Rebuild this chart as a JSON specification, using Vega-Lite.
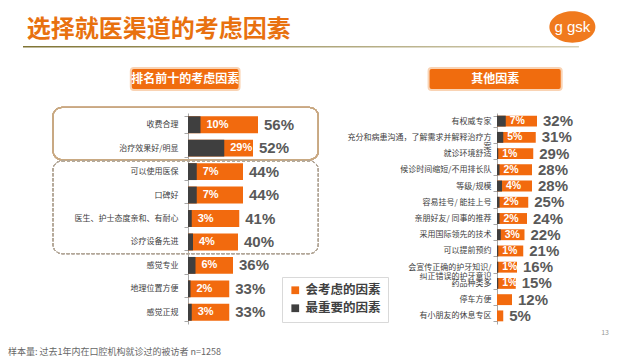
{
  "$schema": "https://vega.github.io/schema/vega-lite/v6.json",
  "background": "white",
  "padding": {"left": 8, "top": 11, "right": 5, "bottom": 5},
  "config": {
    "view": {"stroke": null},
    "font": "Noto Sans CJK SC"
  },
  "columns": 2,
  "spacing": {"row": 23, "column": 159},
  "bounds": "flush",
  "resolve": {"scale": {"color": "independent"}, "legend": {"color": "independent"}},
  "concat": [
    {
      "width": 150,
      "height": 22,
      "data": {"values": [{}]},
      "layer": [
        {
          "mark": {"type": "rect", "fill": "#F06C0E", "stroke": "#F9D3B4", "strokeWidth": 2, "cornerRadius": 3},
          "encoding": {
            "x": {"datum": -0.4575, "type": "quantitative", "scale": {"domain": [0, 1.125]}, "axis": null},
            "x2": {"datum": 0.4125},
            "y": {"datum": 0, "type": "quantitative", "scale": {"domain": [0, 1]}, "axis": null},
            "y2": {"datum": 1}
          }
        },
        {
          "mark": {"type": "text", "text": "排名前十的考虑因素", "color": "white", "fontSize": 12, "fontWeight": "bold", "align": "center", "baseline": "middle"},
          "encoding": {
            "x": {"datum": -0.0225, "type": "quantitative"},
            "y": {"datum": 0.5, "type": "quantitative"}
          }
        },
        {
          "mark": {"type": "text", "text": "选择就医渠道的考虑因素", "color": "#E8710F", "fontSize": 24, "fontWeight": "bold", "align": "left", "baseline": "middle"},
          "encoding": {
            "x": {"datum": -1.29, "type": "quantitative"},
            "y": {"datum": 2.705, "type": "quantitative"}
          }
        },
        {
          "mark": {"type": "rect", "color": {"gradient": "linear", "x1": 0, "x2": 1, "y1": 0, "y2": 0, "stops": [{"offset": 0, "color": "#7F7434"}, {"offset": 1, "color": "#D6D0B6"}]}},
          "encoding": {
            "x": {"datum": -1.32, "type": "quantitative"},
            "x2": {"datum": 3.1275},
            "y": {"datum": 2.0, "type": "quantitative"},
            "y2": {"datum": 1.93}
          }
        },
        {
          "mark": {"type": "point", "shape": "M -1 0 A 1 0.68 0 1 0 1 0 A 1 0.68 0 1 0 -1 0 Z", "filled": true, "color": "#F07A1E", "size": 2116, "opacity": 1},
          "encoding": {
            "x": {"datum": 3.075, "type": "quantitative"},
            "y": {"datum": 2.864, "type": "quantitative"}
          }
        },
        {
          "mark": {"type": "text", "text": "g gsk", "color": "white", "fontSize": 15, "font": "Liberation Sans", "align": "center", "baseline": "middle"},
          "encoding": {
            "x": {"datum": 3.075, "type": "quantitative"},
            "y": {"datum": 2.864, "type": "quantitative"}
          }
        }
      ]
    },
    {
      "width": 100,
      "height": 22,
      "data": {"values": [{}]},
      "layer": [
        {
          "mark": {"type": "rect", "fill": "#F06C0E", "stroke": "#F9D3B4", "strokeWidth": 2, "cornerRadius": 3},
          "encoding": {
            "x": {"datum": -0.5475, "type": "quantitative", "scale": {"domain": [0, 0.75]}, "axis": null},
            "x2": {"datum": 0.5175},
            "y": {"datum": 0, "type": "quantitative", "scale": {"domain": [0, 1]}, "axis": null},
            "y2": {"datum": 1}
          }
        },
        {
          "mark": {"type": "text", "text": "其他因素", "color": "white", "fontSize": 12, "fontWeight": "bold", "align": "center", "baseline": "middle"},
          "encoding": {
            "x": {"datum": -0.015, "type": "quantitative"},
            "y": {"datum": 0.5, "type": "quantitative"}
          }
        }
      ]
    },
    {
      "width": 150,
      "height": 211,
      "title": {"text": "样本量: 过去1年内在口腔机构就诊过的被访者 n=1258", "orient": "bottom", "anchor": "start", "frame": "group", "dx": -180, "offset": 24, "fontSize": 9, "fontWeight": "normal", "color": "#666666"},
      "data": {
        "values": [
          {"name": "收费合理", "consider": 0.56, "important": 0.10},
          {"name": "治疗效果好/明显", "consider": 0.52, "important": 0.29},
          {"name": "可以使用医保", "consider": 0.44, "important": 0.07},
          {"name": "口碑好", "consider": 0.44, "important": 0.07},
          {"name": "医生、护士态度亲和、有耐心", "consider": 0.41, "important": 0.03},
          {"name": "诊疗设备先进", "consider": 0.40, "important": 0.04},
          {"name": "感觉专业", "consider": 0.36, "important": 0.06},
          {"name": "地理位置方便", "consider": 0.33, "important": 0.02},
          {"name": "感觉正规", "consider": 0.33, "important": 0.03}
        ]
      },
      "layer": [
        {
          "mark": {"type": "bar"},
          "encoding": {
            "y": {"field": "name", "type": "nominal", "sort": null, "scale": {"paddingInner": 0.28, "paddingOuter": 0.14},
              "axis": {"title": null, "labelFontSize": 8, "labelColor": "#404040", "domainColor": "#A6A6A6", "tickColor": "#A6A6A6", "tickSize": 4, "tickBand": "extent", "labelPadding": 6, "labelLimit": 300}},
            "x": {"field": "consider", "type": "quantitative", "scale": {"domain": [0, 1.125]}, "axis": null},
            "color": {"datum": "会考虑的因素", "type": "nominal",
              "scale": {"domain": ["会考虑的因素", "最重要的因素"], "range": ["#F26A0E", "#3F3F3F"]},
              "legend": {"title": null, "orient": "none", "legendX": 94, "legendY": 164, "fillColor": "white", "strokeColor": "#D9D9D9", "padding": 7, "labelFontSize": 12.5, "labelFontWeight": "bold", "labelColor": "#404040", "symbolType": "square", "symbolSize": 60, "rowPadding": 5}}
          }
        },
        {
          "mark": {"type": "bar"},
          "encoding": {
            "y": {"field": "name", "type": "nominal", "sort": null},
            "x": {"field": "important", "type": "quantitative"},
            "color": {"datum": "最重要的因素", "type": "nominal"}
          }
        },
        {
          "mark": {"type": "text", "align": "left", "baseline": "middle", "dx": 6, "color": "white", "fontWeight": "bold", "fontSize": 11, "font": "Liberation Sans"},
          "encoding": {
            "y": {"field": "name", "type": "nominal", "sort": null},
            "x": {"field": "important", "type": "quantitative"},
            "text": {"field": "important", "type": "quantitative", "format": ".0%"}
          }
        },
        {
          "mark": {"type": "text", "align": "left", "baseline": "middle", "dx": 6, "color": "#595959", "fontWeight": "bold", "fontSize": 15, "font": "Liberation Sans"},
          "encoding": {
            "y": {"field": "name", "type": "nominal", "sort": null},
            "x": {"field": "consider", "type": "quantitative"},
            "text": {"field": "consider", "type": "quantitative", "format": ".0%"}
          }
        },
        {
          "mark": {"type": "rect", "fill": null, "stroke": "#C9A983", "strokeWidth": 1.2, "cornerRadius": 9, "yOffset": -9, "y2Offset": 3.3},
          "encoding": {
            "x": {"datum": -1.08, "type": "quantitative"},
            "x2": {"datum": 1.0425},
            "y": {"datum": "收费合理", "type": "nominal", "bandPosition": 0},
            "y2": {"datum": "治疗效果好/明显", "bandPosition": 1}
          }
        },
        {
          "mark": {"type": "rect", "fill": null, "stroke": "#B5A99A", "strokeWidth": 1, "strokeDash": [3, 2], "cornerRadius": 9, "yOffset": -2.3, "y2Offset": 3.3},
          "encoding": {
            "x": {"datum": -1.08, "type": "quantitative"},
            "x2": {"datum": 1.0425},
            "y": {"datum": "可以使用医保", "type": "nominal", "bandPosition": 0},
            "y2": {"datum": "诊疗设备先进", "bandPosition": 1}
          }
        }
      ]
    },
    {
      "width": 100,
      "height": 211,
      "title": {"text": "13", "orient": "bottom", "anchor": "end", "frame": "group", "dx": 12, "offset": 5, "fontSize": 7, "fontWeight": "normal", "color": "#999999"},
      "data": {
        "values": [
          {"name": "有权威专家", "consider": 0.32, "important": 0.07},
          {"name": "充分和病患沟通，了解需求并解释治疗方案", "consider": 0.31, "important": 0.05},
          {"name": "就诊环境舒适", "consider": 0.29, "important": 0.01},
          {"name": "候诊时间缩短/不用排长队", "consider": 0.28, "important": 0.02},
          {"name": "等级/规模", "consider": 0.28, "important": 0.04},
          {"name": "容易挂号/ 能挂上号", "consider": 0.25, "important": 0.02},
          {"name": "亲朋好友/ 同事的推荐", "consider": 0.24, "important": 0.02},
          {"name": "采用国际领先的技术", "consider": 0.22, "important": 0.03},
          {"name": "可以提前预约", "consider": 0.21, "important": 0.01},
          {"name": "会宣传正确的护牙知识/纠正错误的护牙意识", "consider": 0.16, "important": 0.01},
          {"name": "药品种类多", "consider": 0.15, "important": 0.01},
          {"name": "停车方便", "consider": 0.12, "important": null},
          {"name": "有小朋友的休息专区", "consider": 0.05, "important": null}
        ]
      },
      "layer": [
        {
          "mark": {"type": "bar", "color": "#F26A0E"},
          "encoding": {
            "y": {"field": "name", "type": "nominal", "sort": null, "scale": {"paddingInner": 0.33, "paddingOuter": 0.165},
              "axis": {"title": null, "labelFontSize": 8, "labelColor": "#404040", "domainColor": "#A6A6A6", "tickColor": "#A6A6A6", "tickSize": 4, "tickBand": "extent", "labelPadding": 2, "labelLimit": 300, "labelLineHeight": 9,
                "labelExpr": "datum.label == '充分和病患沟通，了解需求并解释治疗方案' ? ['充分和病患沟通，了解需求并解释治疗方', '案'] : datum.label == '会宣传正确的护牙知识/纠正错误的护牙意识' ? ['会宣传正确的护牙知识/', '纠正错误的护牙意识'] : datum.label"}},
            "x": {"field": "consider", "type": "quantitative", "scale": {"domain": [0, 0.75]}, "axis": null}
          }
        },
        {
          "mark": {"type": "bar", "color": "#3F3F3F"},
          "encoding": {
            "y": {"field": "name", "type": "nominal", "sort": null},
            "x": {"field": "important", "type": "quantitative"}
          }
        },
        {
          "transform": [{"filter": "datum.important != null"}],
          "mark": {"type": "text", "align": "left", "baseline": "middle", "dx": 4, "color": "white", "fontWeight": "bold", "fontSize": 10.5, "font": "Liberation Sans"},
          "encoding": {
            "y": {"field": "name", "type": "nominal", "sort": null},
            "x": {"field": "important", "type": "quantitative"},
            "text": {"field": "important", "type": "quantitative", "format": ".0%"}
          }
        },
        {
          "mark": {"type": "text", "align": "left", "baseline": "middle", "dx": 6, "color": "#595959", "fontWeight": "bold", "fontSize": 15, "font": "Liberation Sans"},
          "encoding": {
            "y": {"field": "name", "type": "nominal", "sort": null},
            "x": {"field": "consider", "type": "quantitative"},
            "text": {"field": "consider", "type": "quantitative", "format": ".0%"}
          }
        }
      ]
    }
  ]
}
